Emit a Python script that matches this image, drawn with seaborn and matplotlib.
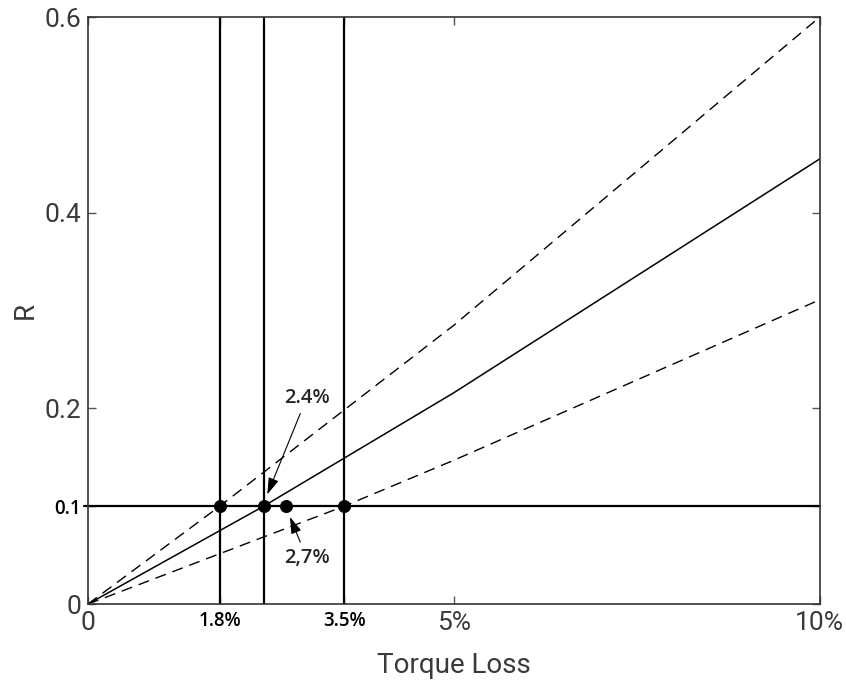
import matplotlib
matplotlib.use("Agg")
import matplotlib.pyplot as plt
import seaborn as sns
import pandas as pd

# curves (x in %, R)
upper_x = [0, 1.8, 5, 10]
upper_y = [0, 0.1, 0.285, 0.6]
mid_x = [0, 2.4, 5, 10]
mid_y = [0, 0.1, 0.216, 0.455]
low_x = [0, 3.5, 5, 10]
low_y = [0, 0.1, 0.147, 0.311]

# threshold / marked points
r_level = 0.1
vlines_x = [1.8, 2.4, 3.5]
dots_x = [1.8, 2.4, 2.7, 3.5]
dots_y = [0.1, 0.1, 0.1, 0.1]

xticks = [0, 1.8, 3.5, 5, 10]
xticklabels = ["0", "1.8%", "3.5%", "5%", "10%"]
yticks = [0, 0.1, 0.2, 0.4, 0.6]
yticklabels = ["0", "0.1", "0.2", "0.4", "0.6"]
bold_x = ["1.8%", "3.5%"]
bold_y = ["0.1"]

sns.set_style("ticks")
plt.rcParams["font.family"] = ["Roboto", "DejaVu Sans"]

fig, ax = plt.subplots(figsize=(8.46, 6.81), dpi=100)
fig.subplots_adjust(left=0.104, right=0.969, top=0.975, bottom=0.113)

up = pd.DataFrame({"x": upper_x, "y": upper_y})
md = pd.DataFrame({"x": mid_x, "y": mid_y})
lo = pd.DataFrame({"x": low_x, "y": low_y})
sns.lineplot(data=up, x="x", y="y", ax=ax, color="black", lw=1.0,
             linestyle=(0, (8, 5)))
sns.lineplot(data=md, x="x", y="y", ax=ax, color="black", lw=1.1)
sns.lineplot(data=lo, x="x", y="y", ax=ax, color="black", lw=1.0,
             linestyle=(0, (8, 5)))

for xv in vlines_x:
    ax.axvline(xv, color="black", lw=1.6)
ax.axhline(r_level, color="black", lw=1.6, xmin=-0.006, clip_on=False)

sns.scatterplot(x=dots_x, y=dots_y, ax=ax, color="black", s=75, zorder=5,
                edgecolor="black")

ax.set_xlim(0, 10)
ax.set_ylim(0, 0.6)
ax.set_xticks(xticks)
ax.set_xticklabels(xticklabels)
ax.set_yticks(yticks)
ax.set_yticklabels(yticklabels)
ax.tick_params(direction="in", length=6, width=1, color="#555555",
               top=True, right=True, labelsize=19, labelcolor="#3a3a3a", pad=5)

for t in ax.get_xticklabels():
    if t.get_text() in bold_x:
        t.set_fontfamily(["Open Sans", "DejaVu Sans"])
        t.set_fontweight("semibold")
        t.set_fontsize(13.5)
        t.set_color("black")
for t in ax.get_yticklabels():
    if t.get_text() in bold_y:
        t.set_fontfamily(["Open Sans", "DejaVu Sans"])
        t.set_fontweight("semibold")
        t.set_fontsize(13.5)
        t.set_color("black")

for s in ax.spines.values():
    s.set_color("#333333")
    s.set_linewidth(1.2)

ax.set_xlabel("Torque Loss", fontsize=20, color="#3a3a3a", labelpad=12)
ax.set_ylabel("R", fontsize=20, color="#3a3a3a", labelpad=4)

ann = dict(arrowstyle="-|>,head_length=0.7,head_width=0.22", color="black", lw=0.8,
           shrinkA=2, shrinkB=0)
ax.annotate("2.4%", xy=(2.45, 0.112), xytext=(2.99, 0.211), ha="center", va="center",
            fontsize=14.5, fontfamily=["Open Sans", "DejaVu Sans"], fontweight="semibold",
            arrowprops=ann)
ax.annotate("2,7%", xy=(2.76, 0.089), xytext=(2.99, 0.047), ha="center", va="center",
            fontsize=14.5, fontfamily=["Open Sans", "DejaVu Sans"], fontweight="semibold",
            arrowprops=ann)

plt.savefig("out.png", dpi=100)
plt.close()
